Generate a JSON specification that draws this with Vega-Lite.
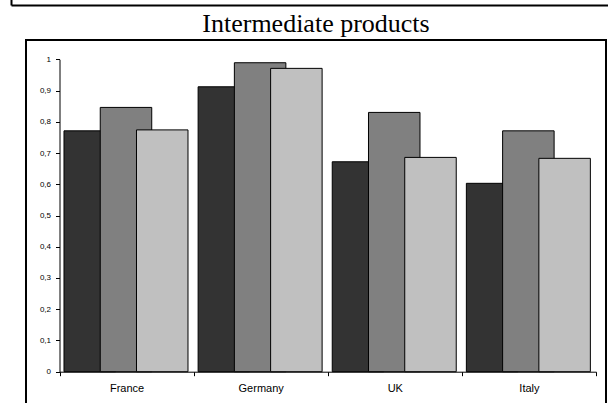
{
  "$schema": "https://vega.github.io/schema/vega-lite/v6.json",
  "autosize": "none",
  "width": 580,
  "height": 365,
  "padding": {"left": 26, "top": 40, "right": 2, "bottom": -2},
  "background": "white",
  "title": {"text": "Intermediate products", "font": "Liberation Serif", "fontSize": 26, "fontWeight": "normal", "color": "black", "anchor": "middle", "frame": "group", "baseline": "alphabetic", "offset": -56},
  "config": {"view": {"stroke": "black", "strokeWidth": 2, "fill": "white"}},
  "layer": [
    {
      "data": {"values": [
        {"country": "France", "series": "Series 1", "value": 0.771},
        {"country": "France", "series": "Series 2", "value": 0.846},
        {"country": "France", "series": "Series 3", "value": 0.774},
        {"country": "Germany", "series": "Series 1", "value": 0.912},
        {"country": "Germany", "series": "Series 2", "value": 0.989},
        {"country": "Germany", "series": "Series 3", "value": 0.971},
        {"country": "UK", "series": "Series 1", "value": 0.672},
        {"country": "UK", "series": "Series 2", "value": 0.830},
        {"country": "UK", "series": "Series 3", "value": 0.686},
        {"country": "Italy", "series": "Series 1", "value": 0.603},
        {"country": "Italy", "series": "Series 2", "value": 0.771},
        {"country": "Italy", "series": "Series 3", "value": 0.683}
      ]},
      "mark": {"type": "bar", "width": {"band": 1.4207}, "stroke": "black", "strokeWidth": 1},
      "encoding": {
        "x": {"field": "country", "type": "nominal", "sort": ["France", "Germany", "UK", "Italy"],
          "scale": {"range": [33.5, 570], "paddingInner": 0, "paddingOuter": 0},
          "axis": {"orient": "bottom", "offset": -33.3, "title": null, "grid": false, "labelAngle": 0,
            "domainColor": "black", "domainWidth": 1, "tickBand": "extent", "tickSize": 4, "tickColor": "black",
            "labelFont": "Liberation Sans", "labelFontSize": 11, "labelColor": "black", "labelPadding": 7}},
        "xOffset": {"field": "series", "type": "nominal", "sort": ["Series 1", "Series 2", "Series 3"],
          "scale": {"range": [32.7, 141.45], "paddingInner": 0, "paddingOuter": 0}},
        "y": {"field": "value", "type": "quantitative",
          "scale": {"domain": [0, 1], "range": [331.7, 19.3], "nice": false},
          "axis": {"orient": "left", "offset": -33.5, "title": null, "grid": false,
            "values": [0, 0.1, 0.2, 0.3, 0.4, 0.5, 0.6, 0.7, 0.8, 0.9, 1],
            "labelExpr": "replace(format(datum.value, '~g'), '.', ',')",
            "domainColor": "black", "domainWidth": 1, "tickSize": 4, "tickColor": "black",
            "labelFont": "Liberation Sans", "labelFontSize": 8, "labelColor": "black", "labelPadding": 5}},
        "color": {"field": "series", "type": "nominal",
          "scale": {"domain": ["Series 1", "Series 2", "Series 3"], "range": ["#333333", "#808080", "#C0C0C0"]},
          "legend": null}
      }
    },
    {
      "data": {"values": [{"v": 0}]},
      "mark": {"type": "point", "opacity": 0},
      "encoding": {
        "x": {"field": "v", "type": "quantitative", "scale": {"domain": [0, 1], "range": [-15, 600], "nice": false, "zero": false},
          "axis": {"orient": "top", "offset": 35, "domainColor": "black", "domainWidth": 2, "ticks": false, "labels": false, "grid": false, "title": null}},
        "y": {"field": "v", "type": "quantitative", "scale": {"domain": [0, 1], "range": [-35, -45], "nice": false, "zero": false},
          "axis": {"orient": "left", "offset": 15, "domainColor": "black", "domainWidth": 2, "ticks": false, "labels": false, "grid": false, "title": null}}
      }
    }
  ],
  "resolve": {"scale": {"x": "independent", "y": "independent"}, "axis": {"x": "independent", "y": "independent"}}
}
